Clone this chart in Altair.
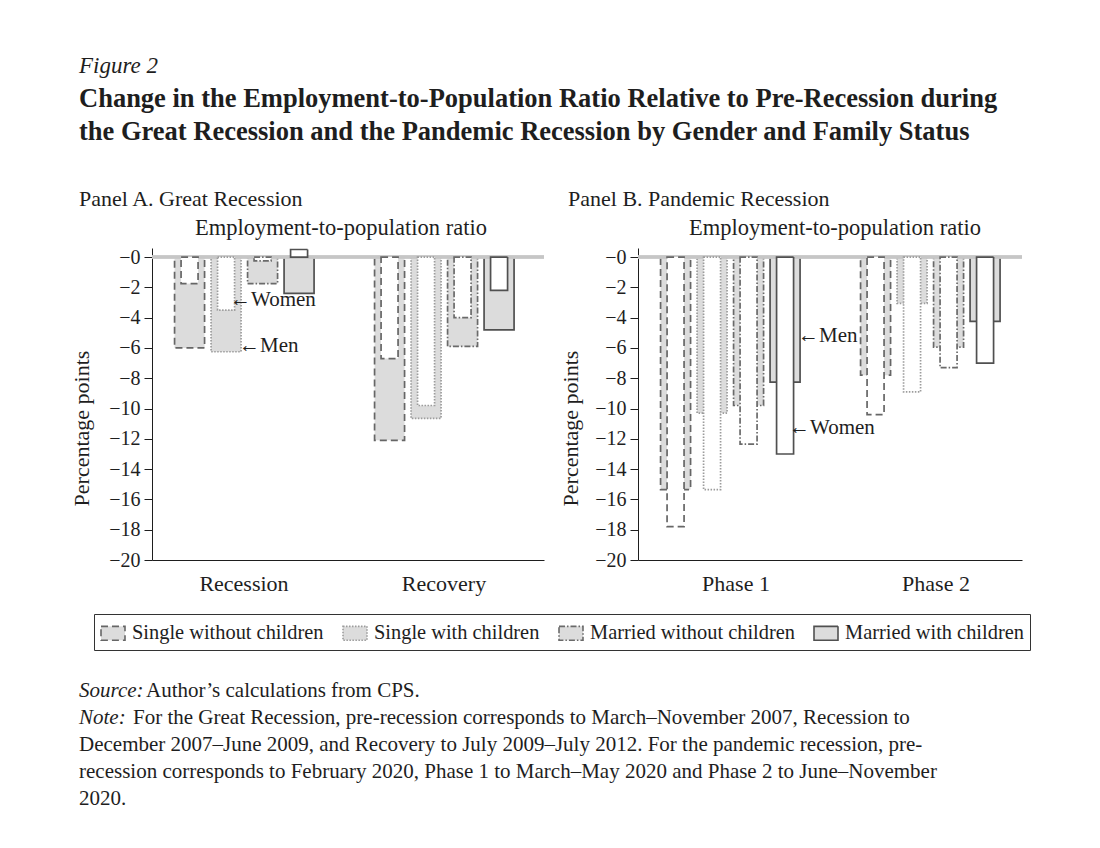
import altair as alt
import pandas as pd

SERIF = "Liberation Serif"
INK = "#1e1e1e"

GROUPS = ["Single without children", "Single with children",
          "Married without children", "Married with children"]
CATS_A = ["Recession", "Recovery"]
CATS_B = ["Phase 1", "Phase 2"]

MEN_A_RECESSION = [-6.0, -6.25, -1.75, -2.4]
WOMEN_A_RECESSION = [-1.75, -3.5, -0.25, 0.5]
MEN_A_RECOVERY = [-12.1, -10.65, -5.9, -4.8]
WOMEN_A_RECOVERY = [-6.7, -9.8, -4.0, -2.2]

MEN_B_PHASE1 = [-15.35, -10.3, -9.8, -8.25]
WOMEN_B_PHASE1 = [-17.8, -15.35, -12.35, -13.0]
MEN_B_PHASE2 = [-7.8, -3.05, -5.95, -4.25]
WOMEN_B_PHASE2 = [-10.4, -8.9, -7.3, -7.0]

Y_TICKS = list(range(-20, 1, 2))

ANN_A = {"cat": "Recession", "group": "Single with children", "women": -2.85, "men": -5.9}
ANN_B = {"cat": "Phase 1", "group": "Married with children", "women": -11.3, "men": -5.2}

FIG_LABEL = "Figure 2"
TITLE_LINES = [
    "Change in the Employment-to-Population Ratio Relative to Pre-Recession during",
    "the Great Recession and the Pandemic Recession by Gender and Family Status",
]
PANEL_A = "Panel A. Great Recession"
PANEL_B = "Panel B. Pandemic Recession"
SUBTITLE = "Employment-to-population ratio"
Y_TITLE = "Percentage points"
SOURCE_LABEL = "Source:"
SOURCE_TEXT = "Author’s calculations from CPS."
NOTE_LABEL = "Note:"
NOTE_LINES = [
    "For the Great Recession, pre-recession corresponds to March–November 2007, Recession to",
    "December 2007–June 2009, and Recovery to July 2009–July 2012. For the pandemic recession, pre-",
    "recession corresponds to February 2020, Phase 1 to March–May 2020 and Phase 2 to June–November",
    "2020.",
]

STROKES = ["#666666", "#9c9c9c", "#6a6a6a", "#505050"]
DASHES = [[7, 4], [1.5, 1.5], [6, 2, 1.5, 2], [1, 0]]


def frame(cats, men_lists, women_lists):
    rows = []
    for c, men, women in zip(cats, men_lists, women_lists):
        for g, m, w in zip(GROUPS, men, women):
            rows.append({"cat": c, "group": g, "men": m, "women": w})
    return pd.DataFrame(rows)


df_a = frame(CATS_A, [MEN_A_RECESSION, MEN_A_RECOVERY], [WOMEN_A_RECESSION, WOMEN_A_RECOVERY])
df_b = frame(CATS_B, [MEN_B_PHASE1, MEN_B_PHASE2], [WOMEN_B_PHASE1, WOMEN_B_PHASE2])

LEG = alt.Legend(
    title=None, orient="none", legendX=-58, legendY=366, direction="horizontal",
    columns=4, columnPadding=15, labelFontSize=20.4, labelFont=SERIF, labelColor=INK,
    symbolType="M-1,-0.58H1V0.58H-1Z", symbolSize=576, symbolFillColor="#dcdcdc",
    symbolStrokeWidth=1.6, strokeColor="#333333", padding=6, labelOffset=6, labelLimit=400,
)


def label(text, x, y, size=20, align="left", style="normal", weight="normal"):
    return alt.Chart(alt.Data(values=[{"t": text}])).mark_text(
        align=align, baseline="alphabetic", fontSize=size, fontStyle=style,
        fontWeight=weight, font=SERIF, color=INK,
    ).encode(x=alt.value(x), y=alt.value(y), text="t:N")


def panel(df, cats, ann, width, pi, po, al, lab_off, title_x, sub_x, ytitle_x, extra):
    X = alt.X("cat:N", sort=cats,
              scale=alt.Scale(domain=cats, paddingInner=pi, paddingOuter=0),
              axis=alt.Axis(title=None, ticks=False, labelAngle=0, labelFontSize=22,
                            labelPadding=13, labelOffset=lab_off, domainColor=INK,
                            labelColor=INK, labelFont=SERIF))
    XO = alt.XOffset("group:N", sort=GROUPS,
                     scale=alt.Scale(domain=GROUPS, paddingInner=0, paddingOuter=po, align=al))
    YSCALE = alt.Scale(domain=[-20, 0.6], nice=False, zero=False)
    YAXIS = alt.Axis(values=Y_TICKS, tickCount=11, grid=False, tickSize=8,
                     labelPadding=4, labelOverlap=False,
                     labelFontSize=20, labelFont=SERIF, labelColor=INK,
                     domainColor=INK, tickColor=INK,
                     labelExpr="datum.value == 0 ? '−0' : datum.label",
                     title=Y_TITLE, titleFont=SERIF, titleFontSize=22,
                     titleFontWeight="normal", titleColor=INK,
                     titleX=ytitle_x, titleY=180, titleAngle=270,
                     titleBaseline="alphabetic", titleAlign="center")
    YM = alt.Y("men:Q", scale=YSCALE, axis=YAXIS, title=Y_TITLE)
    YW = alt.Y("women:Q", scale=YSCALE, axis=YAXIS, title=Y_TITLE)
    STROKE = alt.Stroke("group:N", sort=GROUPS,
                        scale=alt.Scale(domain=GROUPS, range=STROKES), legend=LEG)
    DASH = alt.StrokeDash("group:N", sort=GROUPS,
                          scale=alt.Scale(domain=GROUPS, range=DASHES), legend=LEG)

    base = alt.Chart(df)
    men = base.mark_bar(size=30, fill="#dcdcdc", strokeWidth=1.7).encode(
        x=X, xOffset=XO, y=YM, stroke=STROKE, strokeDash=DASH)
    zero = base.mark_rule(color="#c6c6c6", strokeWidth=2.5).encode(y=alt.datum(0))
    women = base.mark_bar(size=17, fill="white", strokeWidth=1.7).encode(
        x=X, xOffset=XO, y=YW, stroke=STROKE, strokeDash=DASH)

    ann_df = pd.DataFrame([ann])
    ann_base = alt.Chart(ann_df)
    w_txt = ann_base.mark_text(align="left", baseline="middle", dx=4, fontSize=21,
                               font=SERIF, color=INK).encode(
        x=X, xOffset=XO, y=YW, text=alt.value("←Women"))
    m_txt = ann_base.mark_text(align="left", baseline="middle", dx=13, fontSize=21,
                               font=SERIF, color=INK).encode(
        x=X, xOffset=XO, y=YM, text=alt.value("←Men"))

    layers = [men, zero, women, w_txt, m_txt,
              label(title_x[0], title_x[1], -42, size=22),
              label(SUBTITLE, sub_x, -13, size=22.5, align="center")] + extra
    return alt.layer(*layers).properties(width=width, height=312)


extra_a = [
    label(FIG_LABEL, -73, -175, size=23, style="italic"),
    label(TITLE_LINES[0], -73, -141, size=26.5, weight="bold"),
    label(TITLE_LINES[1], -73, -108, size=26.5, weight="bold"),
    label(SOURCE_LABEL, -73, 449, size=21, style="italic"),
    label(SOURCE_TEXT, -6, 449, size=21),
    label(NOTE_LABEL, -73, 476, size=21, style="italic"),
    label(NOTE_LINES[0], -19, 476, size=21),
    label(NOTE_LINES[1], -73, 503, size=21),
    label(NOTE_LINES[2], -73, 530, size=21),
    label(NOTE_LINES[3], -73, 557, size=21),
]

pa = panel(df_a, CATS_A, ANN_A, 392, 0.04, 0.63, 0.42, -4, (PANEL_A, -73), 189, -64, extra_a)
pb = panel(df_b, CATS_B, ANN_B, 384, 0.08, 0.52, 0.66, 6, (PANEL_B, -70), 197, -61, [])

chart = alt.hconcat(pa, pb, spacing=94, bounds="flush").resolve_scale(
    stroke="shared", strokeDash="shared"
).resolve_legend(stroke="shared", strokeDash="shared").properties(
    padding={"left": 62, "top": 47, "right": 10, "bottom": 10}
).configure(font=SERIF).configure_view(stroke=None)

chart.save("out.html", embed_options={"renderer": "svg", "actions": False})
